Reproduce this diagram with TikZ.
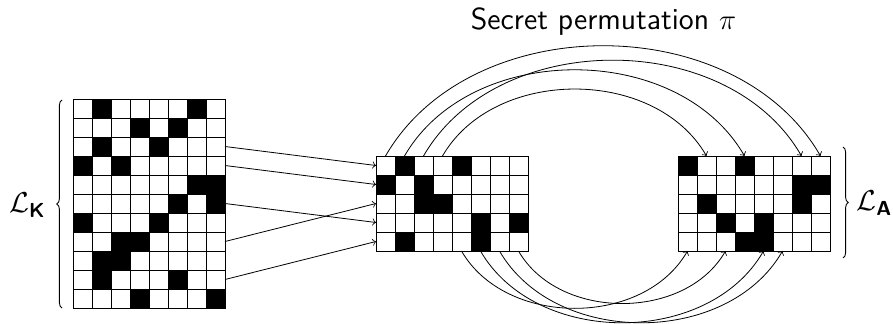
\documentclass[tikz,border=0pt]{standalone}
\usepackage{amsmath}
\usetikzlibrary{decorations.pathreplacing}
\tikzset{
  cell/.style={draw, line width=0.5pt, minimum size=9.5pt, inner sep=0pt, outer sep=0pt},
  cell0/.style={fill=white},
  cell1/.style={fill=black},
  conn/.style={->, line width=0.4pt},
  bracestyle/.style={decorate, decoration={brace, amplitude=2.6pt}, line width=0.45pt},
  lbl/.style={font=\fontsize{14.5}{17}\selectfont, inner sep=0pt},
  titlelbl/.style={font=\fontsize{15.2}{18}\selectfont, inner sep=0pt}
}
\begin{document}
\begin{tikzpicture}[x=0.5pt,y=0.5pt]
\useasboundingbox (0,0) rectangle (893,323);
% left grid (11 x 8)
\foreach \r/\row in {1/{0,1,0,0,0,0,1,0},2/{0,0,0,1,0,1,0,0},3/{0,1,0,0,1,0,0,0},4/{1,0,1,0,0,0,0,0},5/{0,0,0,0,0,0,1,1},6/{0,0,0,0,0,1,0,1},7/{1,0,0,0,1,0,0,0},8/{0,0,1,1,0,0,0,0},9/{0,1,1,0,0,0,0,0},10/{0,1,0,0,0,1,0,0},11/{0,0,0,1,0,0,0,1}}{
  \foreach \v [count=\c] in \row {
    \node[cell, cell\v] (L-\r-\c) at ({63.5+19*\c},{233.5-19*\r}) {};
  }
}
% middle grid (5 x 8)
\foreach \r/\row in {1/{0,1,0,0,1,0,0,0},2/{1,0,1,0,0,0,0,0},3/{0,0,1,1,0,0,0,0},4/{0,0,0,0,0,1,0,1},5/{0,1,0,0,0,1,0,0}}{
  \foreach \v [count=\c] in \row {
    \node[cell, cell\v] (M-\r-\c) at ({366.5+19*\c},{176.5-19*\r}) {};
  }
}
% right grid (5 x 8)
\foreach \r/\row in {1/{1,0,0,1,0,0,0,0},2/{0,0,0,0,0,0,1,1},3/{0,1,0,0,0,0,1,0},4/{0,0,1,0,1,0,0,0},5/{0,0,0,1,1,0,0,0}}{
  \foreach \v [count=\c] in \row {
    \node[cell, cell\v] (R-\r-\c) at ({668.5+19*\c},{176.5-19*\r}) {};
  }
}
% row selection arrows
\draw[conn] (L-3-8.east) -- (M-1-1.west);
\draw[conn] (L-4-8.east) -- (M-2-1.west);
\draw[conn] (L-8-8.east) -- (M-3-1.west);
\draw[conn] (L-6-8.east) -- (M-4-1.west);
\draw[conn] (L-10-8.east) -- (M-5-1.west);
% column permutation arcs (top)
\draw[conn] (M-1-1.north) to[bend left=60] (R-1-8.north);
\draw[conn] (M-1-2.north) to[bend left=60] (R-1-4.north);
\draw[conn] (M-1-3.north) to[bend left=60] (R-1-7.north);
\draw[conn] (M-1-4.north) to[bend left=60] (R-1-2.north);
% column permutation arcs (bottom)
\draw[conn] (M-5-5.south) to[bend right=60] (R-5-1.south);
\draw[conn] (M-5-6.south) to[bend right=60] (R-5-5.south);
\draw[conn] (M-5-7.south) to[bend right=60] (R-5-6.south);
\draw[conn] (M-5-8.south) to[bend right=60] (R-5-3.south);
% title
\node[titlelbl, anchor=base] (title) at (603.5,294) {\sffamily Secret permutation $\pi$};
% braces and labels
\coordinate (lbA) at (62,15);
\coordinate (lbB) at (62,223);
\draw[bracestyle] (lbA) -- (lbB);
\node[lbl, anchor=east] (LK) at (46,118) {$\mathcal{L}_{\textsf{\textbf{K}}}$};
\coordinate (rbA) at (843,176);
\coordinate (rbB) at (843,65);
\draw[bracestyle] (rbA) -- (rbB);
\node[lbl, anchor=west] (LA) at (856,120) {$\mathcal{L}_{\textsf{\textbf{A}}}$};
\end{tikzpicture}
\end{document}
